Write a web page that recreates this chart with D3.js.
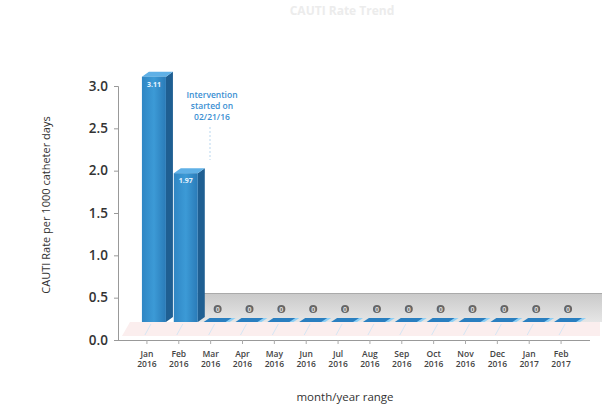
<!DOCTYPE html>
<html><head><meta charset="utf-8">
<script src="https://cdn.jsdelivr.net/npm/d3@7"></script>
<style>body{margin:0;background:#fff;} svg{display:block;}</style>
</head><body>
<script>
const months = ["Jan","Feb","Mar","Apr","May","Jun","Jul","Aug","Sep","Oct","Nov","Dec","Jan","Feb"];
const years  = ["2016","2016","2016","2016","2016","2016","2016","2016","2016","2016","2016","2016","2017","2017"];
const rates  = [3.11,1.97,0,0,0,0,0,0,0,0,0,0,0,0];
const rateLabels = ["3.11","1.97","0","0","0","0","0","0","0","0","0","0","0","0"];
const yTicks = [0,0.5,1.0,1.5,2.0,2.5,3.0];
const annotation = ["Intervention","started on","02/21/16"];

const W=602,H=411;
const svg=d3.select("body").append("svg").attr("width",W).attr("height",H);
const defs=svg.append("defs");
const gFront=defs.append("linearGradient").attr("id","front").attr("x1",0).attr("x2",1).attr("y1",0).attr("y2",0);
gFront.append("stop").attr("offset","0%").attr("stop-color","#2f86c4");
gFront.append("stop").attr("offset","50%").attr("stop-color","#3c9ad6");
gFront.append("stop").attr("offset","100%").attr("stop-color","#2a7bb8");
const gWall=defs.append("linearGradient").attr("id","wall").attr("x1",0).attr("x2",0).attr("y1",0).attr("y2",1);
gWall.append("stop").attr("offset","0%").attr("stop-color","#c9c9c9");
gWall.append("stop").attr("offset","100%").attr("stop-color","#e6e6e6");

const keys=d3.range(months.length);
const x=d3.scaleBand().domain(keys).range([131,577]).padding(0);
const y=d3.scaleLinear().domain([0,3]).range([340,86]);
const floorY=322, dx=7, dy=-5, bw=24;

// faint title
svg.append("text").attr("x",342).attr("y",15).attr("text-anchor","middle")
  .attr("font-family","Open Sans").attr("font-size",12).attr("font-weight","bold")
  .attr("fill","#ececec").text("CAUTI Rate Trend");

// pink floor
svg.append("path").attr("d",`M122,${floorY+14} L130,${floorY} L600,${floorY} L600,${floorY+14} Z`)
  .attr("fill","#fbeeee");
keys.forEach(i=>{
  const cx=x(i)+x.bandwidth()/2;
  svg.append("line").attr("x1",cx-2).attr("x2",cx+4).attr("y1",floorY+13).attr("y2",floorY+2)
    .attr("stroke","#d6e6f4").attr("stroke-width",1);
});

// grey wall band behind zero bars
const wallX0 = x(2)+3;
svg.append("rect").attr("x",wallX0).attr("y",293).attr("width",W-wallX0).attr("height",floorY-293)
  .attr("fill","url(#wall)");
svg.append("line").attr("x1",wallX0).attr("x2",W).attr("y1",293.5).attr("y2",293.5).attr("stroke","#aaa");

// axes
const yAxis=d3.axisLeft(y).tickValues(yTicks).tickFormat(d3.format(".1f")).tickSize(4).tickPadding(6);
const ga=svg.append("g").attr("transform","translate(118,0)").call(yAxis);
ga.select(".domain").attr("stroke","#999");
ga.selectAll(".tick line").attr("stroke","#999");
ga.selectAll("text").attr("font-family","Open Sans").attr("font-size",13.5).attr("font-weight","600").attr("fill","#333");
svg.append("line").attr("x1",118).attr("x2",590).attr("y1",340.5).attr("y2",340.5).attr("stroke","#999");
keys.forEach(i=>{
  const cx=x(i)+x.bandwidth()/2;
  svg.append("line").attr("x1",cx).attr("x2",cx).attr("y1",340).attr("y2",344).attr("stroke","#aaa");
});

// bars
keys.forEach(i=>{
  const v=rates[i];
  const bx=x(i)+x.bandwidth()/2-bw/2+7;
  const top=Math.min(y(v),floorY-3);
  if(v>0){
    svg.append("path").attr("d",`M${bx+bw},${top} L${bx+bw+dx},${top+dy} L${bx+bw+dx},${floorY+dy} L${bx+bw},${floorY} Z`).attr("fill","#1f5f92");
    svg.append("path").attr("d",`M${bx},${top} L${bx+dx},${top+dy} L${bx+bw+dx},${top+dy} L${bx+bw},${top} Z`).attr("fill","#5fb0e6");
    svg.append("rect").attr("x",bx).attr("y",top).attr("width",bw).attr("height",floorY-top).attr("fill","url(#front)");
    svg.append("text").attr("x",bx+bw/2).attr("y",top+10).attr("text-anchor","middle")
      .attr("font-family","Open Sans").attr("font-size",7).attr("font-weight","bold").attr("fill","#e8f4ff").text(rateLabels[i]);
  } else {
    svg.append("path").attr("d",`M${bx-2},${floorY} L${bx+4},${floorY-4} L${bx+bw+4},${floorY-4} L${bx+bw-2},${floorY} Z`).attr("fill","#2a7fc0");
    svg.append("path").attr("d",`M${bx+bw-4},${floorY} L${bx+bw+2},${floorY-4} L${bx+bw+6},${floorY-4} L${bx+bw},${floorY} Z`).attr("fill","#8fd0f5");
    svg.append("circle").attr("cx",bx+bw/2).attr("cy",309).attr("r",4).attr("fill","#666");
    svg.append("text").attr("x",bx+bw/2).attr("y",311.5).attr("text-anchor","middle")
      .attr("font-family","Open Sans").attr("font-size",7).attr("font-weight","bold").attr("fill","#ddd").text(rateLabels[i]);
  }
});

// x labels
keys.forEach(i=>{
  const cx=x(i)+x.bandwidth()/2;
  const t=svg.append("text").attr("text-anchor","middle").attr("font-family","Open Sans")
    .attr("font-size",8.5).attr("font-weight","600").attr("fill","#444");
  t.append("tspan").attr("x",cx).attr("y",357).text(months[i]);
  t.append("tspan").attr("x",cx).attr("y",367).text(years[i]);
});

// annotation
annotation.forEach((s,j)=>{
  svg.append("text").attr("x",212).attr("y",98+j*11).attr("text-anchor","middle")
    .attr("font-family","Open Sans").attr("font-size",8.5).attr("font-weight","600").attr("fill","#3b8fd2").text(s);
});
svg.append("line").attr("x1",210).attr("x2",210).attr("y1",127).attr("y2",160)
  .attr("stroke","#b9d7ef").attr("stroke-dasharray","2,2");

// axis titles
svg.append("text").attr("transform","translate(50,205) rotate(-90)").attr("text-anchor","middle")
  .attr("font-family","Open Sans").attr("font-size",11).attr("fill","#333").text("CAUTI Rate per 1000 catheter days");
svg.append("text").attr("x",345).attr("y",401).attr("text-anchor","middle")
  .attr("font-family","Open Sans").attr("font-size",11.5).attr("fill","#333").text("month/year range");
</script>
</body></html>
